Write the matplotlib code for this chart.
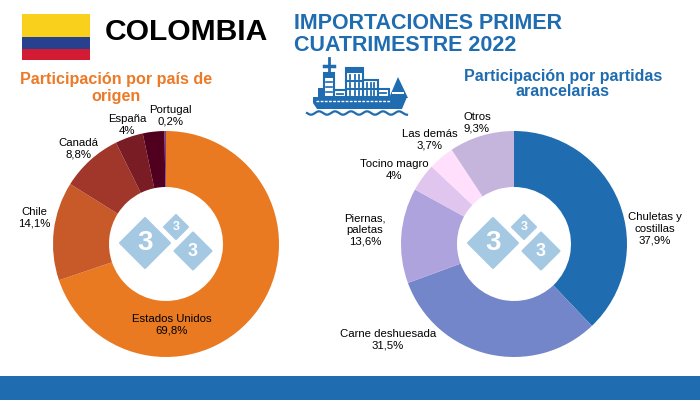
import matplotlib
matplotlib.use("Agg")
import matplotlib.pyplot as plt
from matplotlib.patches import Rectangle, Polygon
import numpy as np

plt.rcParams['font.family'] = ['Liberation Sans', 'DejaVu Sans']

# left donut, the dark slice before Portugal has no label in the picture
pais_labels = ["Estados Unidos\n69,8%", "Chile\n14,1%", "Canadá\n8,8%", "España\n4%", "Portugal\n0,2%"]
pais_values = [69.8, 14.1, 8.8, 4.0, 3.1, 0.2]
pais_colors = ["#E97A22", "#C75A28", "#A0372A", "#7A1C24", "#50001E", "#7B3F8C"]
pais_pos = [(172, 325), (34, 218), (78, 149), (127, 125), (170, 116)]

# right donut
partida_labels = ["Chuletas y\ncostillas\n37,9%", "Carne deshuesada\n31,5%", "Piernas,\npaletas\n13,6%",
                  "Tocino magro\n4%", "Las demás\n3,7%", "Otros\n9,3%"]
partida_values = [37.9, 31.5, 13.6, 4.0, 3.7, 9.3]
partida_colors = ["#1F6CB0", "#7286C9", "#AFA3DE", "#E0C5EE", "#FFDFFB", "#C5B5DC"]
partida_pos = [(655, 229), (388, 340), (365, 230), (394, 170), (430, 140), (477, 123)]

blue = "#1F6CB0"
orange = "#EC7A26"
W, H = 700, 400
R = 113
HOLE = 57


def donut(fig, cx, cy, values, colors):
    ax = fig.add_axes([(cx-R)/W, 1-(cy+R)/H, 2*R/W, 2*R/H])
    ax.pie(values, colors=colors, startangle=90, counterclock=False, radius=1,
           wedgeprops=dict(width=1-HOLE/R, linewidth=0))
    ax.set_xlim(-1, 1)
    ax.set_ylim(-1, 1)
    ax.axis('off')


def diamond(ax, cx, cy, r, size):
    ax.add_patch(Polygon([(cx-r, cy), (cx, cy-r), (cx+r, cy), (cx, cy+r)], facecolor="#A5C8E3",
                         edgecolor="#A5C8E3", lw=1.5, joinstyle='round'))
    ax.text(cx, cy, "3", color="white", fontsize=size, fontweight='bold', ha='center', va='center')


def watermark(ax, cx, cy):
    diamond(ax, cx-21, cy-1, 25, 20)
    diamond(ax, cx+10, cy-17, 12, 9)
    diamond(ax, cx+27, cy+7, 18.5, 13)


def ship(ax):
    # hull and bow
    ax.add_patch(Polygon([(313, 97), (407, 97), (402, 109), (317, 109), (313, 103)], color=blue, lw=0))
    ax.add_patch(Polygon([(389, 98), (398, 77), (408, 98)], color=blue, lw=0))
    ax.add_patch(Rectangle((392, 92), 12, 1.5, color="white", lw=0))
    ax.plot([316, 390], [101, 101], color="white", lw=1, ls=(0, (2, 1)))
    # tower and mast
    ax.add_patch(Rectangle((323.5, 73), 10.5, 24, facecolor="white", edgecolor=blue, lw=1.5))
    ax.add_patch(Rectangle((323.5, 73), 10.5, 5, color=blue, lw=0))
    ax.plot([329, 329], [58, 73], color=blue, lw=2)
    ax.plot([324, 334], [66, 66], color=blue, lw=2.5)
    ax.add_patch(Rectangle((318, 88), 5.5, 9, color=blue, lw=0))
    # containers
    for x, y, w, h in [(346, 68, 17, 29), (363, 80, 15, 17), (378, 89, 10.5, 8), (334, 90, 12, 7)]:
        ax.add_patch(Rectangle((x, y), w, h, facecolor="white", edgecolor=blue, lw=1.5))
    ax.add_patch(Rectangle((346, 68), 17, 5, color=blue, lw=0))
    ax.plot([346, 363], [81, 81], color=blue, lw=1.5)
    ax.plot([346, 363], [89, 89], color=blue, lw=1.5)
    ax.plot([363, 378], [89, 89], color=blue, lw=1.5)
    for x in [350, 354.5, 359]:
        for y in [75, 83, 91]:
            ax.plot([x, x], [y, y+4], color=blue, lw=1.3)
    for x in [367, 370.5, 374]:
        for y in [83, 91]:
            ax.plot([x, x], [y, y+4], color=blue, lw=1.3)
    ax.plot([337, 343], [93.5, 93.5], color=blue, lw=1.3)
    ax.plot([380, 386], [93, 93], color=blue, lw=1.3)
    for y in [82, 87, 92]:
        ax.plot([326, 332], [y, y], color=blue, lw=1.2)
    # waves
    wx = np.linspace(307, 407, 200)
    ax.plot(wx, 113+1.7*np.sin((wx-307)/16*2*np.pi), color=blue, lw=1.6)


fig = plt.figure(figsize=(7, 4), dpi=100, facecolor='white')
donut(fig, 166, 244, pais_values, pais_colors)
donut(fig, 514, 244, partida_values, partida_colors)

top = fig.add_axes([0, 0, 1, 1], zorder=5)
top.set_xlim(0, W)
top.set_ylim(H, 0)
top.axis('off')

# flag
top.add_patch(Rectangle((22, 14), 68, 23, color="#F9D11C", lw=0))
top.add_patch(Rectangle((22, 37), 68, 11.5, color="#27418F", lw=0))
top.add_patch(Rectangle((22, 48.5), 68, 11.5, color="#D31C33", lw=0))

top.text(104.5, 32, "COLOMBIA", fontsize=21.6, fontweight='bold', color='black', va='center', ha='left')
top.text(294, 34.5, "IMPORTACIONES PRIMER\nCUATRIMESTRE 2022", fontsize=15.5, fontweight='bold',
         color=blue, va='center', ha='left', linespacing=1.1)
top.text(116.5, 88, "Participación por país de\norigen", fontsize=11.65, fontweight='bold', color=orange,
         va='center', ha='center', linespacing=1.1)
top.text(563, 84, "Participación por partidas\narancelarias", fontsize=11.5, fontweight='bold', color=blue,
         va='center', ha='center', linespacing=1.08)

ship(top)
watermark(top, 166, 244)
watermark(top, 514, 244)

for lab, (x, y) in zip(pais_labels, pais_pos):
    top.text(x, y, lab, fontsize=8.2, color='black', ha='center', va='center', linespacing=1.2)
for lab, (x, y) in zip(partida_labels, partida_pos):
    top.text(x, y, lab, fontsize=8.2, color='black', ha='center', va='center', linespacing=1.2)

top.add_patch(Rectangle((0, 376), W, 24, color=blue, lw=0))

fig.savefig("out.png", dpi=100)
